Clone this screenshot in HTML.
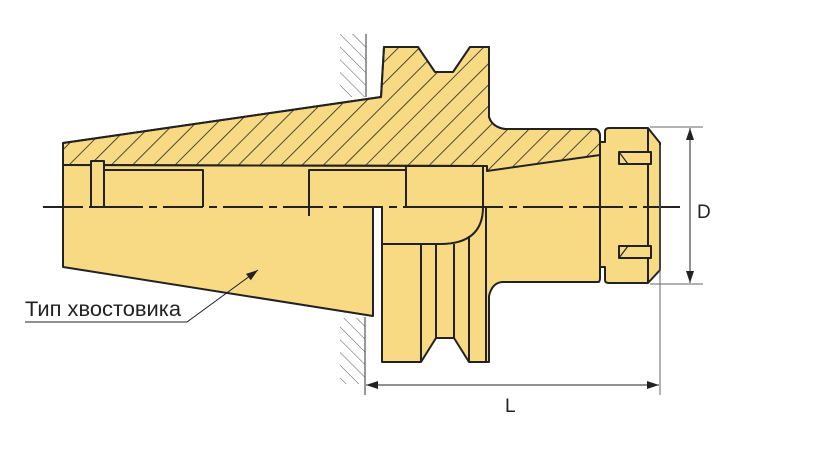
<!DOCTYPE html>
<html><head><meta charset="utf-8"><style>
html,body{margin:0;padding:0;background:#fff;width:830px;height:453px;overflow:hidden}
svg{display:block}
text{font-family:"Liberation Sans",Arial,sans-serif;fill:#222}
</style></head><body>
<svg width="830" height="453" viewBox="0 0 830 453" xmlns="http://www.w3.org/2000/svg">
<defs>
<pattern id="h" patternUnits="userSpaceOnUse" width="15" height="15" patternTransform="rotate(45)">
<line x1="0" y1="0" x2="0" y2="15" stroke="#222" stroke-width="1.6"/>
</pattern>
<pattern id="w" patternUnits="userSpaceOnUse" width="9" height="9" patternTransform="rotate(-45)">
<line x1="0" y1="0" x2="0" y2="9" stroke="#555" stroke-width="1"/>
</pattern>
<marker id="a" markerWidth="12" markerHeight="8" refX="12" refY="4" orient="auto" markerUnits="userSpaceOnUse">
<path d="M0,0 L12,4 L0,8 Z" fill="#222"/>
</marker>
</defs>
<g stroke="#222" stroke-width="2" stroke-linejoin="round" fill="#f8da84">
<rect x="340" y="34" width="26" height="63" fill="url(#w)" stroke="none"/>
<rect x="340" y="318" width="25" height="66" fill="url(#w)" stroke="none"/>
<path d="M63,165 L63,267 L373,316 L373,207 L382,207 L382,362 L421,362 L436,338 L454,338 L469,362 L489,362 L489,296 Q492,283 502,282 L598,282 Q600,282 600,278 L600,267 L605,267 L605,280 Q605,283 609,283 L648,283 L660,270 L660,143 L648,128 L609,128 Q605,128 605,132 L605,142 L600,142 L600,135 Q599,129 594,129 L505,129 Q492,127 489,117 L489,47 L470,47 L453,72 L435,72 L418,47 L384,47 L381,97 L63,143 Z"/>
<path d="M63,143 L381,97 L384,47 L418,47 L435,72 L453,72 L470,47 L489,47 L489,117 Q492,127 505,129 L594,129 Q599,129 600,135 L600,155 L487,171 L487,166 L63,165 Z" fill="url(#h)" stroke="#222"/>
<g fill="none">
<line x1="63" y1="165" x2="487" y2="166"/>
<rect x="91" y="161" width="13" height="46" fill="#f8da84"/>
<polyline points="104,170 203,170 203,207"/>
<polyline points="309,216 309,170 406,170"/>
<rect x="406" y="166" width="77" height="41" fill="#f8da84"/>
<path d="M483,207 Q483,244 440,244 L382,244"/>
<line x1="421" y1="244" x2="421" y2="362"/>
<line x1="436" y1="244" x2="436" y2="338"/>
<line x1="454" y1="244" x2="454" y2="338"/>
<line x1="469" y1="236" x2="469" y2="362"/>
<line x1="486" y1="207" x2="486" y2="362"/>
<line x1="600" y1="142" x2="600" y2="267"/>
<line x1="648" y1="128" x2="648" y2="283"/>
<rect x="619" y="152" width="32" height="12" fill="#f8da84"/>
<rect x="619" y="246" width="32" height="12" fill="#f8da84"/>
<line x1="619" y1="152" x2="628" y2="164" stroke-width="1.2"/>
<line x1="619" y1="258" x2="628" y2="246" stroke-width="1.2"/>
</g>
</g>
<line x1="43" y1="207" x2="680" y2="207" stroke="#222" stroke-width="2" stroke-dasharray="40,6,8,6"/>
<line x1="366" y1="34" x2="366" y2="97" stroke="#777" stroke-width="1.5"/>
<line x1="365" y1="317" x2="365" y2="395" stroke="#555" stroke-width="1.2"/>
<g stroke="#666" stroke-width="1">
<line x1="660" y1="145" x2="660" y2="395"/>
<line x1="650" y1="127" x2="703" y2="127"/>
<line x1="650" y1="284" x2="703" y2="284"/>
</g>
<g stroke="#222" stroke-width="1">
<line x1="512" y1="385" x2="659" y2="385" marker-end="url(#a)"/>
<line x1="512" y1="385" x2="366" y2="385" marker-end="url(#a)"/>
<line x1="690" y1="205" x2="690" y2="128" marker-end="url(#a)"/>
<line x1="690" y1="205" x2="690" y2="283" marker-end="url(#a)"/>
<polyline points="25,322 187,322 258,270" fill="none" marker-end="url(#a)"/>
</g>
<text x="697" y="218" font-size="19">D</text>
<text x="505" y="412" font-size="19">L</text>
<text x="25" y="316" font-size="21" textLength="156" lengthAdjust="spacingAndGlyphs">Тип хвостовика</text>
</svg>
</body></html>
